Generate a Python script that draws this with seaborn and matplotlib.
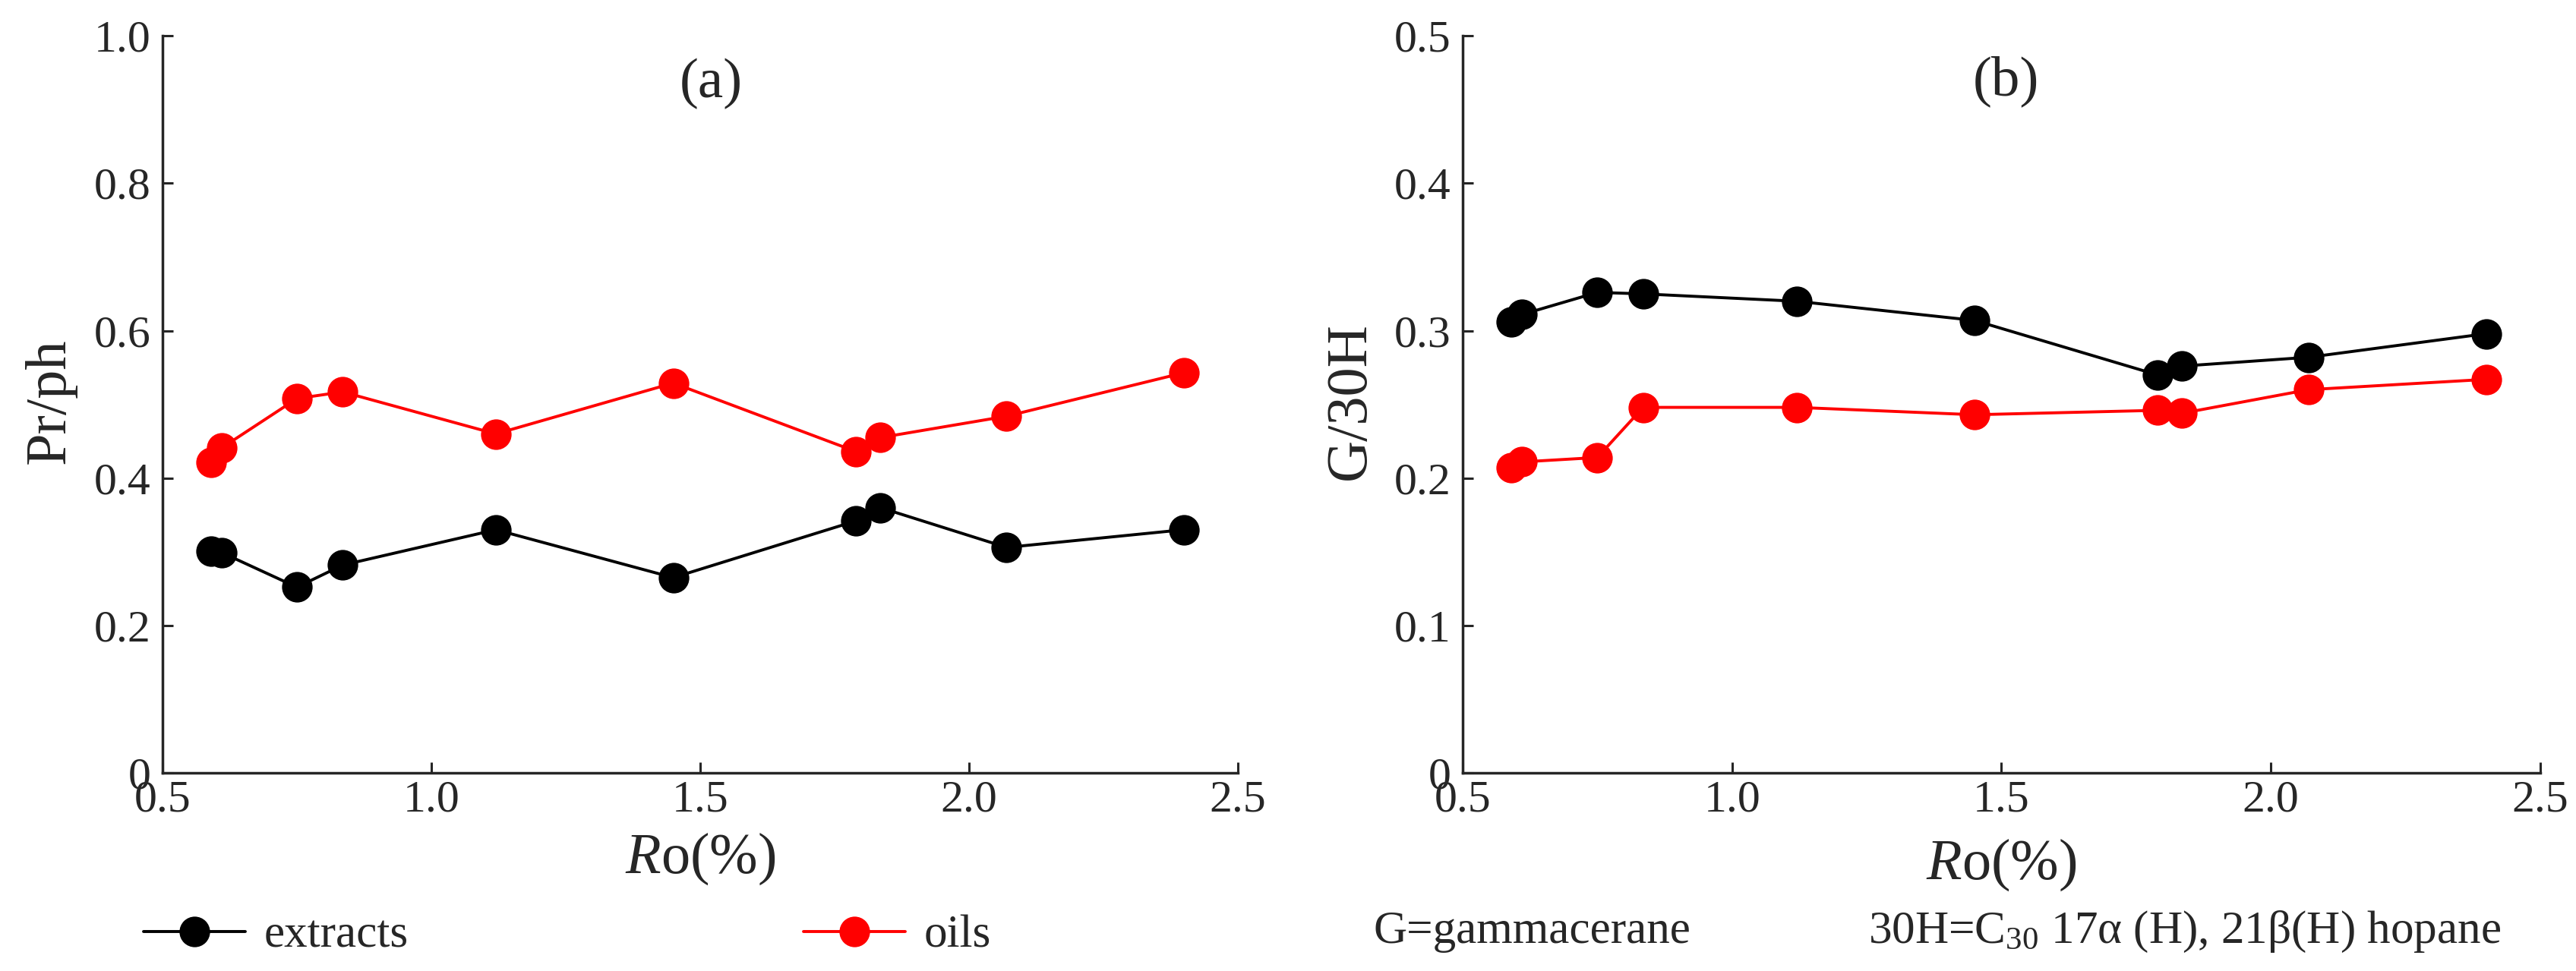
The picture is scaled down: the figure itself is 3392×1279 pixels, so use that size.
import matplotlib.pyplot as plt
import pandas as pd
import seaborn as sns

# Ro values (shared by both panels)
ro = [0.59, 0.61, 0.75, 0.835, 1.12, 1.45, 1.79, 1.835, 2.07, 2.40]

# (a) Pr/ph
pr_ph_extracts = [0.301, 0.299, 0.252, 0.282, 0.330, 0.265, 0.342, 0.360, 0.306, 0.330]
pr_ph_oils = [0.421, 0.441, 0.508, 0.517, 0.460, 0.529, 0.436, 0.455, 0.484, 0.543]

# (b) G/30H
g30h_extracts = [0.306, 0.311, 0.326, 0.325, 0.320, 0.307, 0.270, 0.276, 0.282, 0.298]
g30h_oils = [0.207, 0.211, 0.214, 0.248, 0.248, 0.243, 0.246, 0.244, 0.260, 0.267]

x_ticks = [0.5, 1.0, 1.5, 2.0, 2.5]
x_tick_labels = ['0.5', '1.0', '1.5', '2.0', '2.5']
a_ticks = [0, 0.2, 0.4, 0.6, 0.8, 1.0]
a_tick_labels = ['0', '0.2', '0.4', '0.6', '0.8', '1.0']
b_ticks = [0, 0.1, 0.2, 0.3, 0.4, 0.5]
b_tick_labels = ['0', '0.1', '0.2', '0.3', '0.4', '0.5']

sns.set_style('ticks')
plt.rcParams['font.family'] = ['Liberation Serif', 'DejaVu Serif']
plt.rcParams['mathtext.fontset'] = 'custom'
plt.rcParams['mathtext.rm'] = 'Liberation Serif'
plt.rcParams['mathtext.it'] = 'Liberation Serif:italic'


def make_df(extracts, oils):
    return pd.concat([
        pd.DataFrame({'Ro': ro, 'value': extracts, 'sample': 'extracts'}),
        pd.DataFrame({'Ro': ro, 'value': oils, 'sample': 'oils'}),
    ], ignore_index=True)


df_a = make_df(pr_ph_extracts, pr_ph_oils)
df_b = make_df(g30h_extracts, g30h_oils)
palette = {'extracts': 'black', 'oils': 'red'}

fig = plt.figure(figsize=(33.92, 12.79), dpi=100)
ax_a = fig.add_axes([0.0631, 0.204, 0.4174, 0.759])
ax_b = fig.add_axes([0.5678, 0.204, 0.4183, 0.759])

line_kw = dict(x='Ro', y='value', hue='sample', palette=palette, marker='o',
               markersize=29, markeredgewidth=0, linewidth=2.8)
sns.lineplot(data=df_a, ax=ax_a, legend=True, **line_kw)
sns.lineplot(data=df_b, ax=ax_b, legend=False, **line_kw)


def style_axis(ax, yticks, ylabels, ylabel, tag, tag_x, tag_y, xpad):
    ax.set_xlim(0.5, 2.5)
    ax.set_ylim(0, yticks[-1])
    ax.set_xticks(x_ticks, x_tick_labels)
    ax.set_yticks(yticks, ylabels)
    sns.despine(ax=ax)
    for side in ['left', 'bottom']:
        ax.spines[side].set_linewidth(2.5)
    ax.tick_params(axis='both', direction='in', length=10, width=2.2, labelsize=43)
    ax.tick_params(axis='x', pad=7)
    ax.tick_params(axis='y', pad=11)
    ax.set_xlabel('$\\mathit{R}$o(%)', fontsize=55, labelpad=xpad)
    ax.set_ylabel(ylabel, fontsize=55)
    ax.yaxis.set_label_coords(-0.08, 0.505)
    ax.text(tag_x, tag_y, tag, transform=ax.transAxes, ha='center', va='center', fontsize=54)


style_axis(ax_a, a_ticks, a_tick_labels, 'Pr/ph', '(a)', 0.51, 0.935, 9)
style_axis(ax_b, b_ticks, b_tick_labels, 'G/30H', '(b)', 0.504, 0.938, 15)

# legend moved below panel (a)
leg = ax_a.get_legend()
handles = leg.legend_handles
labels = [t.get_text() for t in leg.get_texts()]
leg.remove()
fig.legend(handles, labels, loc='center left', bbox_to_anchor=(189 / 3392, 1 - 1233 / 1279),
           ncol=2, frameon=False, fontsize=44, handlelength=2.2, handletextpad=0.4,
           columnspacing=8.5, borderpad=0, borderaxespad=0)

fig.text(1808 / 3392, 1 - 1227 / 1279, 'G=gammacerane', va='center', fontsize=44)
fig.text(2460 / 3392, 1 - 1227 / 1279, '30H=C$_{30}$ 17\u03b1 (H), 21\u03b2(H) hopane',
         va='center', fontsize=44)

fig.savefig('out.png', dpi=100)
